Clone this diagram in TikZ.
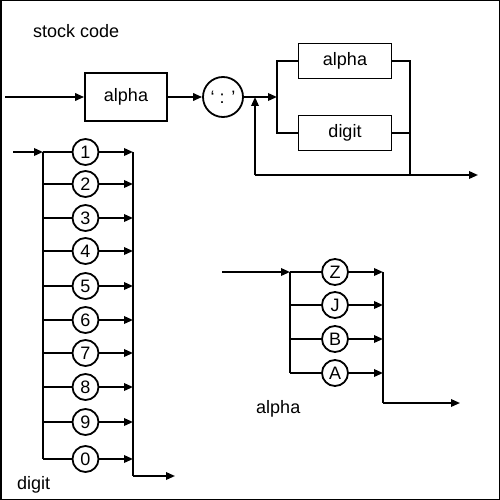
\documentclass[tikz,border=0pt]{standalone}
\usepackage{fontspec}
\setmainfont{Liberation Sans}
\usetikzlibrary{arrows.meta,positioning}

\begin{document}
\begin{tikzpicture}[x=1pt,y=-1pt,line width=1.8pt,
	>={Triangle[length=9pt,width=7.5pt]},
	every node/.style={font=\fontsize{18}{20}\selectfont},
	box/.style={draw,line width=1.8pt,inner sep=0pt},
	term/.style={draw,circle,inner sep=0pt,minimum size=26pt},
	lbl/.style={anchor=base west}]
			\useasboundingbox (0,0) rectangle (500,500);
			\draw[line width=1.5pt] (0.75,0.75) rectangle (499.25,499.25);
			% stock code
			\node[lbl] (title) at (29,37.5) {stock code};
			\coordinate (start) at (5,97);
			\node[box, minimum width=82pt, minimum height=48pt] (alphaA) at (126,97) {alpha};
			\node[term, minimum size=40pt] (colon) at (223,97) {‘ : ’};
			\coordinate (split) at (277,97);
			\node[box, minimum width=93pt, minimum height=35pt] (alphaB) at (345,61) {alpha};
			\node[box, minimum width=93pt, minimum height=35pt] (digitB) at (345,133) {digit};
			\coordinate (merge) at (410,175);
			\coordinate (loop) at (255,175);
			\coordinate (end) at (478,175);
			\draw[->] (start) to (alphaA);
			\draw[->] (alphaA) to (colon);
			\draw[->] (colon) to (split);
			\draw (alphaB) -| (split) |- (digitB);
			\draw (alphaB) -| (merge);
			\draw (digitB) -| (merge);
			\draw[->] (loop) to (end);
			\draw[->] (loop) to (loop |- colon);
			% digit
			\coordinate (dstart) at (13,152);
			\coordinate (dsplit) at (43,152);
			\coordinate (dmerge) at (133,152);
			\coordinate (dturn) at (133,476);
			\coordinate (dend) at (175,476);
			\draw[->] (dstart) to (dsplit);
			\foreach \d/\y in {1/152,2/184,3/218,4/251,5/286,6/320,7/353,8/387,9/422,0/459}{
				\node[term] (d\d) at (85.5,\y) {\d};
				\draw (dsplit |- d\d) to (d\d);
				\draw[->] (d\d) to (dmerge |- d\d);
			}
			\draw (dsplit) to (dsplit |- d0);
			\draw (dmerge) to (dturn);
			\draw[->] (dturn) to (dend);
			\node[lbl] (digitlbl) at (13,489) {digit};
			% alpha
			\coordinate (astart) at (222,272);
			\coordinate (asplit) at (290,272);
			\coordinate (amerge) at (383,272);
			\coordinate (aturn) at (383,403);
			\coordinate (aend) at (460,403);
			\draw[->] (astart) to (asplit);
			\foreach \c/\y in {Z/272,J/305,B/339,A/373}{
				\node[term] (a\c) at (335,\y) {\c};
				\draw (asplit |- a\c) to (a\c);
				\draw[->] (a\c) to (amerge |- a\c);
			}
			\draw (asplit) to (asplit |- aA);
			\draw (amerge) to (aturn);
			\draw[->] (aturn) to (aend);
			\node[lbl] (alphalbl) at (252,413) {alpha};
\end{tikzpicture}
\end{document}
